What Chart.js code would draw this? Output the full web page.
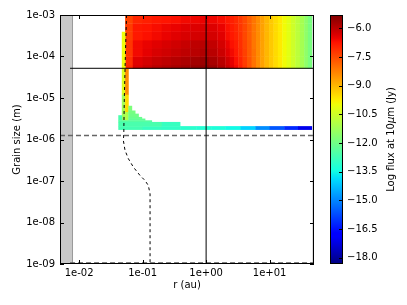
<!DOCTYPE html>
<html><head><meta charset="utf-8">
<script src="https://cdn.jsdelivr.net/npm/chart.js@4.4.1/dist/chart.umd.min.js"></script>
<style>html,body{margin:0;padding:0;background:#fff;}#wrap{width:407px;height:305px;position:relative;}</style>
</head><body><div id="wrap"><canvas id="c" width="407" height="305"></canvas></div>
<script>
// ---------- tick labels ----------
const xTicks = [0.01, 0.1, 1, 10];
const xTickLabels = ['1e-02', '1e-01', '1e+00', '1e+01'];
const yTicks = [1e-9, 1e-8, 1e-7, 1e-6, 1e-5, 1e-4, 1e-3];
const yTickLabels = ['1e-09', '1e-08', '1e-07', '1e-06', '1e-05', '1e-04', '1e-03'];
const cbTicks = [-18, -16.5, -15, -13.5, -12, -10.5, -9, -7.5, -6];
const cbTickLabels = ['\u221218.0', '\u221216.5', '\u221215.0', '\u221213.5', '\u221212.0', '\u221210.5', '\u22129.0', '\u22127.5', '\u22126.0'];
const fluxRange = [-18.33, -5.30];
const rRange = [0.005, 50];
const sizeRange = [1e-9, 1e-3];

// ---------- heatmap: large-grain block (rows bottom -> top) ----------
const topREdges = [0.053, 0.07, 0.1, 0.14, 0.2, 0.28, 0.4, 0.56, 0.8, 1.1, 1.5, 2.0,
  2.35, 2.75, 3.2, 3.75, 4.4, 5.2, 6.1, 7.1, 8.3, 9.8, 11.5, 13.5, 15.8, 18.5, 21.7, 25.5, 30, 35, 40, 46];
const topSizeEdges = [5.2e-5, 6.3e-5, 1.0e-4, 1.6e-4, 2.5e-4, 4.0e-4, 6.3e-4, 1.0e-3];
const topFlux = [
  [-7.0, -6.3, -6.1, -5.95, -5.85, -5.75, -5.65, -5.55, -5.45, -5.6, -5.85,
   -6.1, -6.35, -6.6, -6.9, -7.25, -7.65, -8.05, -8.4, -8.7, -9.0, -9.25, -9.5, -9.7, -9.95, -10.2, -10.5, -10.8, -11.15, -11.5, -11.85],
  [-7.1, -6.4, -6.25, -6.1, -6.0, -5.9, -5.8, -5.7, -5.6, -5.75, -5.95,
   -6.2, -6.45, -6.7, -6.95, -7.3, -7.65, -8.05, -8.4, -8.7, -9.0, -9.25, -9.5, -9.7, -9.95, -10.2, -10.5, -10.8, -11.15, -11.5, -11.85],
  [-7.2, -6.6, -6.45, -6.3, -6.2, -6.1, -6.0, -5.95, -5.85, -5.95, -6.15,
   -6.4, -6.6, -6.8, -7.05, -7.35, -7.7, -8.05, -8.4, -8.7, -9.0, -9.25, -9.5, -9.7, -9.95, -10.2, -10.5, -10.8, -11.15, -11.5, -11.85],
  [-7.2, -6.6, -6.5, -6.4, -6.3, -6.2, -6.1, -6.0, -5.95, -6.05, -6.25,
   -6.5, -6.7, -6.85, -7.1, -7.4, -7.7, -8.1, -8.4, -8.7, -9.0, -9.25, -9.5, -9.7, -9.95, -10.2, -10.5, -10.8, -11.15, -11.5, -11.85],
  [-7.3, -6.8, -6.7, -6.6, -6.5, -6.4, -6.3, -6.25, -6.2, -6.25, -6.4,
   -6.65, -6.8, -6.95, -7.15, -7.45, -7.75, -8.1, -8.4, -8.7, -9.0, -9.25, -9.5, -9.7, -9.95, -10.2, -10.5, -10.8, -11.15, -11.5, -11.85],
  [-7.3, -6.8, -6.75, -6.65, -6.55, -6.5, -6.4, -6.35, -6.3, -6.35, -6.5,
   -6.7, -6.85, -7.0, -7.2, -7.45, -7.75, -8.1, -8.4, -8.7, -9.0, -9.25, -9.5, -9.7, -9.95, -10.2, -10.5, -10.8, -11.15, -11.5, -11.85],
  [-7.4, -7.0, -6.9, -6.8, -6.75, -6.7, -6.6, -6.55, -6.5, -6.55, -6.65,
   -6.8, -6.9, -7.05, -7.25, -7.5, -7.8, -8.1, -8.4, -8.7, -9.0, -9.25, -9.5, -9.7, -9.95, -10.2, -10.5, -10.8, -11.15, -11.5, -11.85]
];

// ---------- heatmap: inner strip and small-grain steps [rLo, rHi, sizeLo, sizeHi, flux] ----------
const innerCells = [
  [0.047, 0.053, 5.2e-5, 3.95e-4, -10.0],
  [0.047, 0.053, 1.2e-5, 5.2e-5, -10.3],
  [0.047, 0.053, 2.9e-6, 1.2e-5, -11.2],
  [0.053, 0.0596, 1.2e-5, 5.2e-5, -8.4],
  [0.053, 0.0596, 4.6e-6, 1.2e-5, -9.5],
  [0.053, 0.0596, 2.9e-6, 4.6e-6, -11.0],
  [0.0596, 0.0675, 5.0e-6, 6.5e-6, -11.8],
  [0.0596, 0.0761, 4.2e-6, 5.0e-6, -11.9],
  [0.0596, 0.086, 3.5e-6, 4.2e-6, -12.0],
  [0.0596, 0.097, 3.2e-6, 3.5e-6, -12.1],
  [0.0596, 0.109, 2.9e-6, 3.2e-6, -12.2],
  [0.0414, 0.047, 2.9e-6, 3.85e-6, -12.6],
  [0.0414, 0.139, 2.65e-6, 2.9e-6, -12.4],
  [0.0414, 0.2, 2.1e-6, 2.65e-6, -12.6],
  [0.2, 0.388, 2.1e-6, 2.65e-6, -12.9]
];

// ---------- heatmap: thin small-grain band ----------
const bandREdges = [0.0414, 0.1, 0.2, 0.39, 0.7, 1.2, 2, 3.5, 6, 10, 17, 28, 46];
const bandSizeEdges = [1.74e-6, 2.1e-6];
const bandFlux = [-12.7, -12.9, -13.0, -13.1, -13.2, -13.3, -13.5, -14.0, -14.9, -15.6, -16.2, -17.1];

// ---------- shaded regions ----------
const innerGrayR = [0.005, 0.0079];
const outerGrayR = [47, 50];

// ---------- lines ----------
const hSolidR = [0.0072, 50];
const hSolidSize = [5.2e-5, 5.2e-5];
const vSolidR = [1, 1];
const vSolidSize = [1e-9, 1e-3];
const hDashR = [0.005, 50];
const hDashSize = [1.25e-6, 1.25e-6];
const hDashLowR = [0.0072, 50];
const hDashLowSize = [1.06e-9, 1.06e-9];
const curveR = [0.0558, 0.0535, 0.0515, 0.0505, 0.0497, 0.0528, 0.0596, 0.0714, 0.091, 0.109, 0.123, 0.131, 0.131];
const curveSize = [1e-3, 1e-4, 1e-5, 1.3e-6, 9.6e-7, 5.5e-7, 3.46e-7, 2.17e-7, 1.36e-7, 1.03e-7, 7.8e-8, 4.9e-8, 1e-9];

// ---------- colormap ----------
function interp(pts, t) {
  for (let i = 1; i < pts.length; i++) {
    if (t <= pts[i][0]) {
      const [t0, v0] = pts[i - 1], [t1, v1] = pts[i];
      return v0 + (v1 - v0) * (t - t0) / (t1 - t0);
    }
  }
  return pts[pts.length - 1][1];
}
const JR = [[0, 0], [0.35, 0], [0.66, 1], [0.89, 1], [1, 0.5]];
const JG = [[0, 0], [0.125, 0], [0.375, 1], [0.64, 1], [0.91, 0], [1, 0]];
const JB = [[0, 0.5], [0.11, 1], [0.34, 1], [0.65, 0], [1, 0]];
function jet(t) {
  t = Math.max(0, Math.min(1, t));
  return 'rgb(' + Math.round(255 * interp(JR, t)) + ',' + Math.round(255 * interp(JG, t)) + ',' + Math.round(255 * interp(JB, t)) + ')';
}
function fluxColor(v) { return jet((v - fluxRange[0]) / (fluxRange[1] - fluxRange[0])); }

const FONT = { family: 'DejaVu Sans', size: 10 };

const heatPlugin = {
  id: 'heat',
  beforeDatasetsDraw(chart) {
    const { ctx, chartArea: a, scales: { x, y } } = chart;
    ctx.save();
    ctx.beginPath(); ctx.rect(a.left, a.top, a.right - a.left, a.bottom - a.top); ctx.clip();
    const cell = (r0, r1, s0, s1, col) => {
      const X0 = x.getPixelForValue(r0), X1 = x.getPixelForValue(r1);
      const Y0 = y.getPixelForValue(s1), Y1 = y.getPixelForValue(s0);
      ctx.fillStyle = col;
      ctx.fillRect(X0, Y0, X1 - X0 + 0.4, Y1 - Y0 + 0.4);
    };
    cell(innerGrayR[0], innerGrayR[1], sizeRange[0], sizeRange[1], '#c8c8c8');
    cell(outerGrayR[0], outerGrayR[1], sizeRange[0], sizeRange[1], '#cfcfcf');
    ctx.strokeStyle = '#9a9a9a'; ctx.lineWidth = 1;
    const gx = Math.round(x.getPixelForValue(innerGrayR[1])) - 0.5;
    ctx.beginPath(); ctx.moveTo(gx, a.top); ctx.lineTo(gx, a.bottom); ctx.stroke();
    for (let i = 0; i < topFlux.length; i++)
      for (let j = 0; j < topFlux[i].length; j++)
        cell(topREdges[j], topREdges[j + 1], topSizeEdges[i], topSizeEdges[i + 1], fluxColor(topFlux[i][j]));
    for (let j = 0; j < bandFlux.length; j++)
      cell(bandREdges[j], bandREdges[j + 1], bandSizeEdges[0], bandSizeEdges[1], fluxColor(bandFlux[j]));
    innerCells.forEach(c => cell(c[0], c[1], c[2], c[3], fluxColor(c[4])));
    ctx.restore();
  },
  afterDatasetsDraw(chart) {
    const { ctx, chartArea: a, scales: { x, y, cb } } = chart;
    ctx.save();
    ctx.strokeStyle = '#000'; ctx.lineWidth = 1;
    ctx.strokeRect(a.left + 0.5, a.top + 0.5, a.right - a.left - 1, a.bottom - a.top - 1);
    ctx.beginPath();
    xTicks.forEach(v => {
      const px = Math.round(x.getPixelForValue(v)) + 0.5;
      ctx.moveTo(px, a.bottom); ctx.lineTo(px, a.bottom - 4);
      ctx.moveTo(px, a.top); ctx.lineTo(px, a.top + 4);
    });
    yTicks.forEach(v => {
      const py = Math.round(y.getPixelForValue(v)) + 0.5;
      ctx.moveTo(a.left, py); ctx.lineTo(a.left + 4, py);
      ctx.moveTo(a.right, py); ctx.lineTo(a.right - 4, py);
    });
    ctx.stroke();
    const cbL = cb.left + 16, cbW = 13;
    const yTop = cb.getPixelForValue(fluxRange[1]), yBot = cb.getPixelForValue(fluxRange[0]);
    const g = ctx.createLinearGradient(0, yBot, 0, yTop);
    for (let i = 0; i <= 64; i++) g.addColorStop(i / 64, jet(i / 64));
    ctx.fillStyle = g;
    ctx.fillRect(cbL, yTop, cbW, yBot - yTop);
    ctx.strokeRect(cbL + 0.5, Math.round(yTop) + 0.5, cbW - 1, Math.round(yBot - yTop) - 1);
    ctx.beginPath();
    cbTicks.forEach(v => {
      const py = Math.round(cb.getPixelForValue(v)) + 0.5;
      ctx.moveTo(cbL + cbW, py); ctx.lineTo(cbL + cbW - 4, py);
    });
    ctx.stroke();
    const parts = [['Log flux at 10', 'normal'], ['\u03bc', 'italic'], ['m (Jy)', 'normal']];
    ctx.fillStyle = '#000';
    ctx.textBaseline = 'middle'; ctx.textAlign = 'left';
    let total = 0;
    parts.forEach(p => { ctx.font = p[1] + ' 10px "DejaVu Sans"'; total += ctx.measureText(p[0]).width; });
    ctx.translate(391, (yTop + yBot) / 2);
    ctx.rotate(-Math.PI / 2);
    let cx = -total / 2;
    parts.forEach(p => { ctx.font = p[1] + ' 10px "DejaVu Sans"'; ctx.fillText(p[0], cx, 0); cx += ctx.measureText(p[0]).width; });
    ctx.restore();
  }
};

const pts = (rs, ss) => rs.map((r, i) => ({ x: r, y: ss[i] }));
const lineDs = (rs, ss, color, width, dash) => ({
  data: pts(rs, ss), showLine: true, pointRadius: 0, borderColor: color, borderWidth: width,
  borderDash: dash, fill: false, tension: 0
});
const noPad = s => { s.paddingTop = 0; s.paddingBottom = 0; s.paddingLeft = 0; s.paddingRight = 0; };

new Chart(document.getElementById('c'), {
  type: 'scatter',
  data: {
    datasets: [
      lineDs(hSolidR, hSolidSize, '#000', 1, []),
      lineDs(vSolidR, vSolidSize, '#000', 1, []),
      lineDs(hDashR, hDashSize, '#666', 1.5, [5, 3]),
      lineDs(hDashLowR, hDashLowSize, '#555', 1.5, [5, 3]),
      lineDs(curveR, curveSize, '#000', 1, [3, 3])
    ]
  },
  options: {
    responsive: false, animation: false, devicePixelRatio: 1,
    layout: { padding: { top: 15, left: 0, right: 0, bottom: 0 } },
    plugins: { legend: { display: false }, tooltip: { enabled: false } },
    scales: {
      x: {
        type: 'logarithmic', position: 'bottom', min: rRange[0], max: rRange[1],
        grid: { display: false, drawTicks: false }, border: { display: false },
        ticks: { autoSkip: false, maxRotation: 0, padding: 3, font: FONT, color: '#000', callback: (v, i) => xTickLabels[i] },
        afterBuildTicks: s => { s.ticks = xTicks.map(v => ({ value: v })); },
        afterFit: s => { s.height = 41; noPad(s); },
        title: { display: true, text: 'r (au)', font: FONT, color: '#000', padding: { top: 0, bottom: 14 } }
      },
      y: {
        type: 'logarithmic', position: 'left', min: sizeRange[0], max: sizeRange[1],
        grid: { display: false, drawTicks: false }, border: { display: false },
        ticks: { autoSkip: false, padding: 5, font: FONT, color: '#000', callback: (v, i) => yTickLabels[i] },
        afterBuildTicks: s => { s.ticks = yTicks.map(v => ({ value: v })); },
        afterFit: s => { s.width = 60; noPad(s); },
        title: { display: true, text: 'Grain size (m)', font: FONT, color: '#000', padding: { top: 11, bottom: 0 } }
      },
      cb: {
        type: 'linear', position: 'right', min: fluxRange[0], max: fluxRange[1],
        grid: { display: false, drawTicks: false }, border: { display: false },
        ticks: { autoSkip: false, padding: 33, font: FONT, color: '#000', callback: (v, i) => cbTickLabels[i] },
        afterBuildTicks: s => { s.ticks = cbTicks.map(v => ({ value: v })); },
        afterFit: s => { s.width = 93; noPad(s); }
      }
    }
  },
  plugins: [heatPlugin]
});
</script></body></html>
